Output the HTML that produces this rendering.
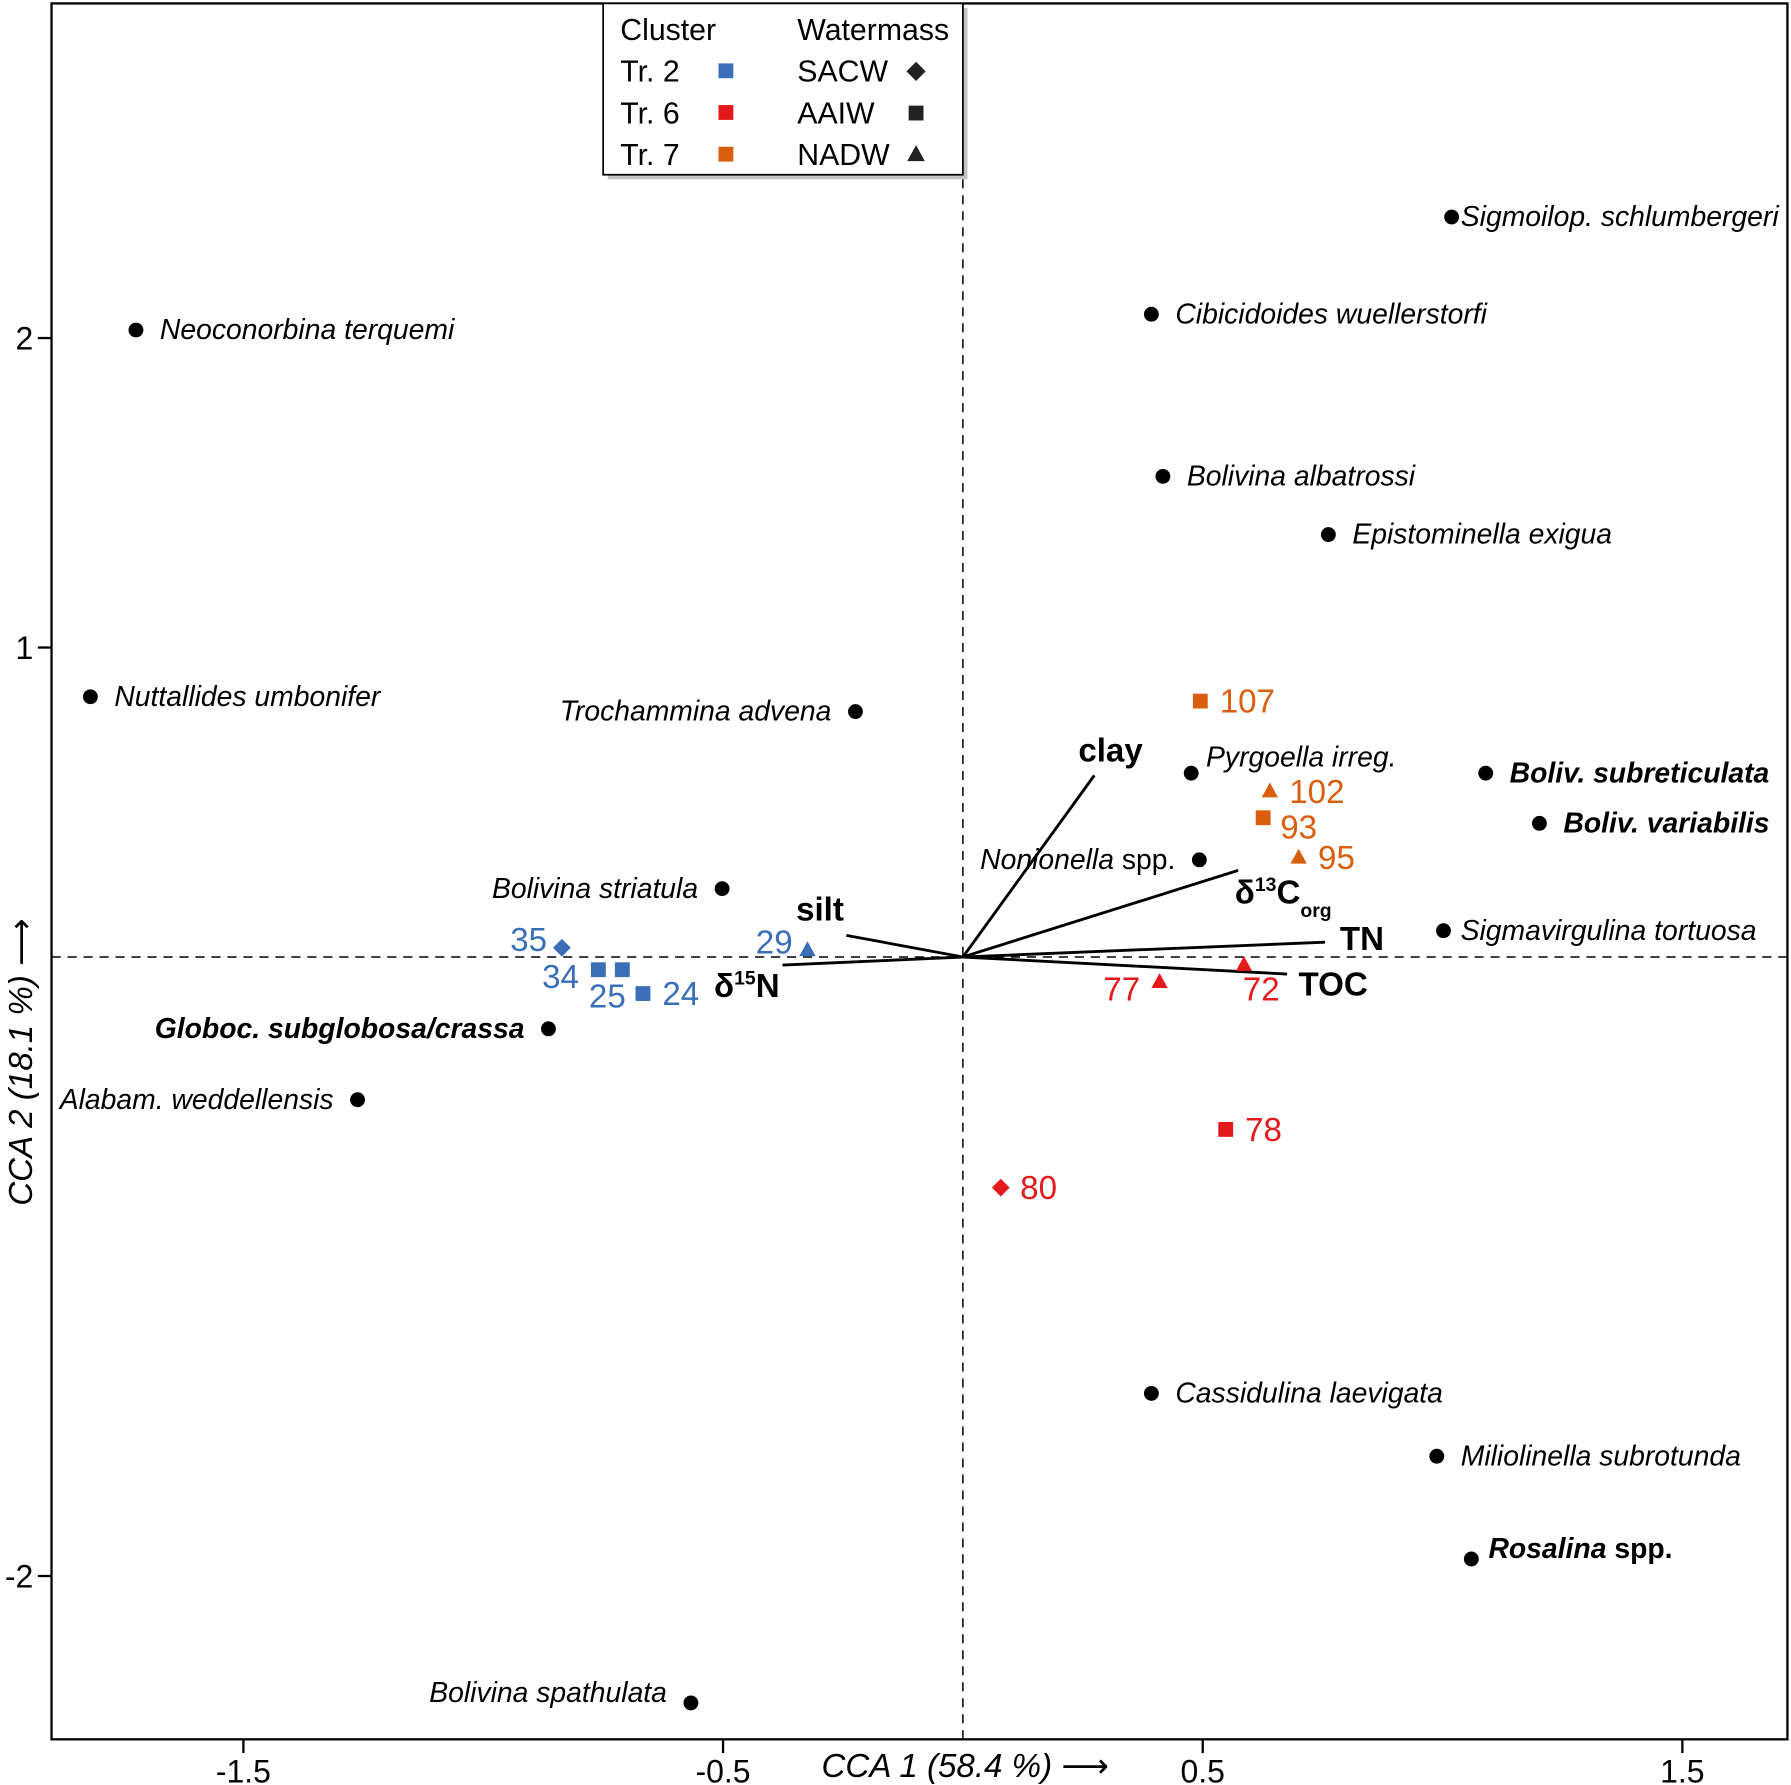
<!DOCTYPE html>
<html><head><meta charset="utf-8">
<style>
html,body{margin:0;padding:0;background:#fff;}
svg{display:block;font-family:"Liberation Sans",Arial,sans-serif;}
</style></head>
<body>
<svg id="chart" width="1791" height="1785" viewBox="0 0 1568 1563" xmlns="http://www.w3.org/2000/svg">
<rect x="0" y="0" width="1568" height="1563" fill="#fff"/>
<g id="plot"></g>
</svg>
<script>
// ---- data ----
const xTicks = [-1.5, -0.5, 0.5, 1.5];
const yTicks = [2, 1, -2];
const speciesNames = ["Sigmoilop. schlumbergeri","Cibicidoides wuellerstorfi","Neoconorbina terquemi","Bolivina albatrossi","Epistominella exigua","Nuttallides umbonifer","Trochammina advena","Pyrgoella irreg.","Boliv. subreticulata","Boliv. variabilis","Nonionella","Bolivina striatula","Sigmavirgulina tortuosa","Globoc. subglobosa/crassa","Alabam. weddellensis","Cassidulina laevigata","Miliolinella subrotunda","Rosalina","Bolivina spathulata"];
const speciesX = [1.019,0.393,-1.724,0.417,0.762,-1.819,-0.224,0.476,1.090,1.202,0.493,-0.502,1.002,-0.864,-1.262,0.393,0.988,1.060,-0.567];
const speciesY = [2.391,2.077,2.026,1.553,1.365,0.841,0.793,0.594,0.594,0.432,0.314,0.221,0.085,-0.232,-0.461,-1.410,-1.613,-1.945,-2.410];
const speciesSide = ["R","R","R","R","R","R","L","RU","R","R","L","L","R","L","L","R","R","RU","LU"];
const speciesBold = [0,0,0,0,0,0,0,0,1,1,0,0,0,1,0,0,0,1,0];
const speciesSuffix = ["","","","","","","","","","",' spp.',"","","","","",""," spp.",""];
const siteLabels = ["107","102","93","95","72","77","78","80","29","35","34","25","24"];
const siteX = [0.495,0.640,0.626,0.700,0.586,0.410,0.548,0.079,-0.324,-0.836,-0.760,-0.710,-0.667];
const siteY = [0.827,0.535,0.450,0.321,-0.026,-0.081,-0.557,-0.745,0.022,0.030,-0.041,-0.041,-0.118];
const siteCluster = ["Tr7","Tr7","Tr7","Tr7","Tr6","Tr6","Tr6","Tr6","Tr2","Tr2","Tr2","Tr2","Tr2"];
const siteShape = ["sq","tri","sq","tri","tri","tri","sq","dia","tri","dia","sq","sq","sq"];
const siteLabelPos = ["R","R","BR","R","B","BL","R","R","L","L","BL","BE","R"];
const envNames = ["clay","d13C","TN","TOC","silt","d15N"];
const envX = [0.274,0.574,0.755,0.676,-0.243,-0.376];
const envY = [0.587,0.280,0.048,-0.055,0.070,-0.026];

const colors = {Tr2:"#3a6fb7",Tr6:"#e31a1c",Tr7:"#d95f0e"};
const NS="http://www.w3.org/2000/svg";
const L=45,T=3,R=1565,B=1523;
function sx(v){return 843+v*420;}
function sy(v){return 838-v*271;}
const g=document.getElementById('plot');
function el(tag,attrs,parent){const e=document.createElementNS(NS,tag);for(const k in attrs)e.setAttribute(k,attrs[k]);(parent||g).appendChild(e);return e;}

let e=el('line',{x1:sx(0),x2:sx(0),y1:T,y2:B,stroke:'#000','stroke-width':1.3,'stroke-dasharray':'8,6'});


e=el('line',{x1:L,x2:R,y1:sy(0),y2:sy(0),stroke:'#000','stroke-width':1.3,'stroke-dasharray':'8,6'});



e=el('rect',{x:L,y:T,width:R-L,height:B-T,fill:'none',stroke:'#000','stroke-width':2});



xTicks.forEach(v=>{
  el('line',{x1:sx(v),x2:sx(v),y1:B,y2:B+12,stroke:'#000','stroke-width':2});
  const t=el('text',{x:sx(v),y:B+38,'text-anchor':'middle','font-size':28,fill:'#000'});
  t.textContent=(v<0?'-':'')+Math.abs(v);
  
  
});
yTicks.forEach(v=>{
  el('line',{x1:L-12,x2:L,y1:sy(v),y2:sy(v),stroke:'#000','stroke-width':2});
  const t=el('text',{x:L-16,y:sy(v)+10,'text-anchor':'end','font-size':28,fill:'#000'});
  t.textContent=(v<0?'-':'')+Math.abs(v);
  
  
});
e=el('text',{x:845,y:1556,'text-anchor':'middle','font-size':29,'font-style':'italic',fill:'#000'});
e.innerHTML='CCA 1 (58.4 %) <tspan font-style="normal" font-family="DejaVu Sans">⟶</tspan>';


e=el('text',{x:0,y:0,'text-anchor':'middle','font-size':29,'font-style':'italic',fill:'#000',transform:'translate(28,930) rotate(-90)'});
e.innerHTML='CCA 2 (18.1 %) <tspan font-style="normal" font-family="DejaVu Sans">⟶</tspan>';



envNames.forEach((n,i)=>{
  const ln=el('line',{x1:sx(0),y1:sy(0),x2:sx(envX[i]),y2:sy(envY[i]),stroke:'#000','stroke-width':2.5});
  
  
  const ex=sx(envX[i]),ey=sy(envY[i]);
  const t=el('text',{'font-size':29,'font-weight':'bold',fill:'#000'});
  
  
  if(n==='clay'){t.setAttribute('x',ex-14);t.setAttribute('y',ey-12);t.textContent='clay';}
  else if(n==='silt'){t.setAttribute('x',ex-44);t.setAttribute('y',ey-13);t.textContent='silt';}
  else if(n==='TN'){t.setAttribute('x',ex+13);t.setAttribute('y',ey+7);t.textContent='TN';}
  else if(n==='TOC'){t.setAttribute('x',ex+10);t.setAttribute('y',ey+19);t.textContent='TOC';}
  else if(n==='d15N'){t.setAttribute('x',ex-60);t.setAttribute('y',ey+28);
    t.innerHTML='δ<tspan font-size="17" dy="-11">15</tspan><tspan dy="11">N</tspan>';}
  else if(n==='d13C'){t.setAttribute('x',ex-3);t.setAttribute('y',ey+29);
    t.innerHTML='δ<tspan font-size="17" dy="-11">13</tspan><tspan dy="11">C</tspan><tspan font-size="17" dy="12">org</tspan>';}
});

speciesNames.forEach((n,i)=>{
  const x=sx(speciesX[i]),y=sy(speciesY[i]);
  const c=el('circle',{cx:x,cy:y,r:6.5,fill:'#000'});
  
  
  const side=speciesSide[i];
  const right=side[0]==='R';
  const up=side.length>1?(i===7?14:9):0;
  const gap=i===0?8:(i===7?13:(i===12||i===17?15:21));
  const t=el('text',{x:right?x+gap:x-gap,y:y+8-up,'text-anchor':right?'start':'end','font-size':24.8,fill:'#000'});
  
  
  const a=el('tspan',{'font-style':'italic','font-weight':speciesBold[i]?'bold':'normal'},t);a.textContent=n;
  if(speciesSuffix[i].trim()){const b=el('tspan',{'font-weight':speciesBold[i]?'bold':'normal'},t);b.textContent=speciesSuffix[i];}
});

function marker(shape,x,y,col,size){
  if(shape==='sq')return el('rect',{x:x-size/2,y:y-size/2,width:size,height:size,fill:col});
  if(shape==='tri')return el('polygon',{points:`${x},${y-size*0.6} ${x-size*0.55},${y+size*0.4} ${x+size*0.55},${y+size*0.4}`,fill:col});
  return el('polygon',{points:`${x},${y-size*0.6} ${x+size*0.6},${y} ${x},${y+size*0.6} ${x-size*0.6},${y}`,fill:col});
}
siteLabels.forEach((lab,i)=>{
  const x=sx(siteX[i]),y=sy(siteY[i]),col=colors[siteCluster[i]];
  const m=marker(siteShape[i],x,y,col,13);
  
  
  let tx=x+17,ty=y+10,anc='start';
  const p=siteLabelPos[i];
  if(p==='L'){tx=x-13;ty=y+3;anc='end';}
  else if(p==='BL'){tx=x-17;ty=y+16;anc='end';}
  else if(p==='B'){tx=x-1;ty=y+31;anc='start';}
  else if(p==='BE'){tx=x+3;ty=y+33;anc='end';}
  else if(p==='BR'){tx=x+15;ty=y+18;}
  const t=el('text',{x:tx,y:ty,'text-anchor':anc,'font-size':29,fill:col});
  t.textContent=lab;
  
  
});

const lg=el('g',{});


el('rect',{x:532,y:7,width:315,height:150,fill:'#888',opacity:0.5},lg);
el('rect',{x:528,y:3,width:315,height:150,fill:'#fff',stroke:'#000','stroke-width':1.5},lg);
const lgRows=[["Cluster","Watermass",null,null],["Tr. 2","SACW","Tr2","dia"],["Tr. 6","AAIW","Tr6","sq"],["Tr. 7","NADW","Tr7","tri"]];
lgRows.forEach((r,i)=>{
  const y=35+i*36.5;
  let t=el('text',{x:543,y:y,'font-size':26.5,fill:'#000'},lg);t.textContent=r[0];
  
  
  t=el('text',{x:698,y:y,'font-size':26.5,fill:'#000'},lg);t.textContent=r[1];
  
  
  if(r[2]){
    el('rect',{x:629,y:y-16,width:13,height:13,fill:colors[r[2]]},lg);
    const m=marker(r[3],802,y-9,'#222',r[3]==='sq'?13:14);lg.appendChild(m);
  }
});
</script>
</body></html>
